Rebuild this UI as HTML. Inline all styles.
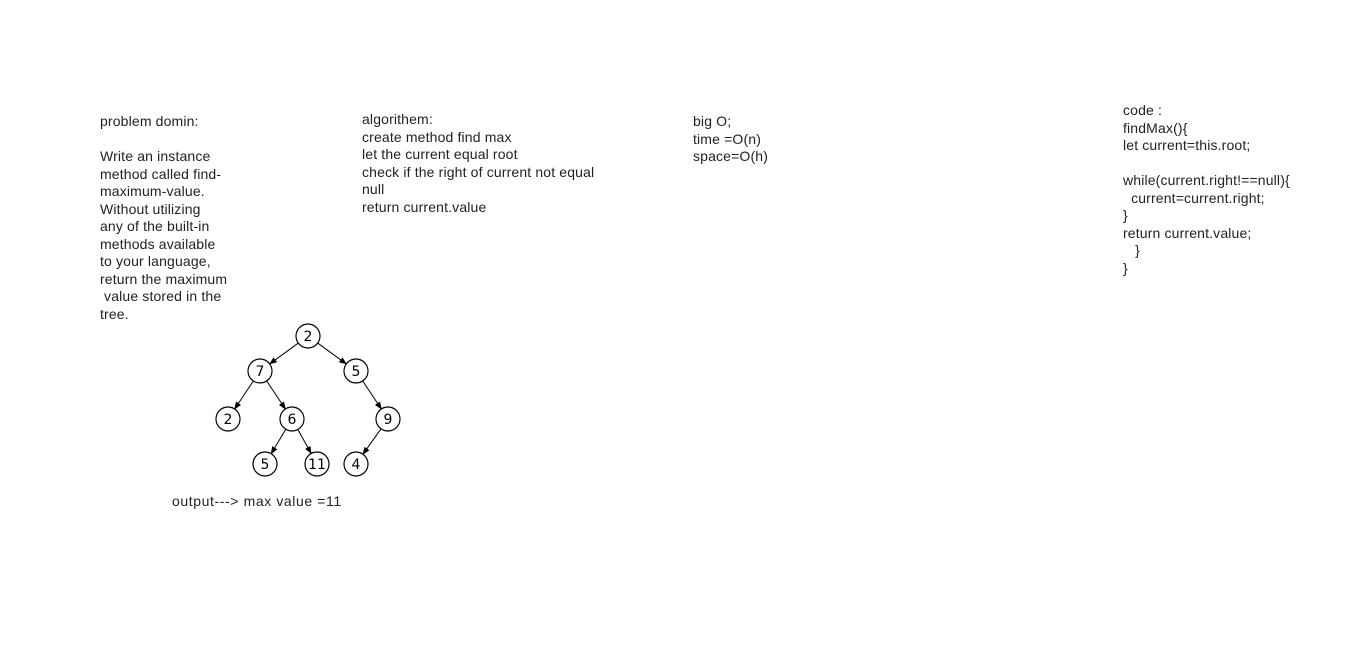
<!DOCTYPE html>
<html><head><meta charset="utf-8"><style>
html,body{margin:0;padding:0;background:#fff;width:1366px;height:657px;overflow:hidden;position:relative}
.t{position:absolute;font-family:"Liberation Sans",sans-serif;font-size:14px;line-height:17.5px;color:#222;white-space:pre;letter-spacing:0.15px}
svg{position:absolute;left:0;top:0}
</style></head><body>
<div class="t" style="left:100px;top:113px">problem domin:

Write an instance
method called find-
maximum-value.
Without utilizing
any of the built-in
methods available
to your language,
return the maximum
 value stored in the
tree.</div>
<div class="t" style="left:362px;top:111px">algorithem:
create method find max
let the current equal root
check if the right of current not equal
null
return current.value</div>
<div class="t" style="left:693px;top:113px">big O;
time =O(n)
space=O(h)</div>
<div class="t" style="left:1123px;top:102px">code :
findMax(){
let current=this.root;

while(current.right!==null){
  current=current.right;
}
return current.value;
   }
}</div>
<div class="t" style="left:172px;top:493px;letter-spacing:0.6px">output---&gt; max value =11</div>
<svg id="tree" width="1366" height="657"></svg>
<script>
const labels=["2","7","5","2","6","9","5","11","4"];
const nx=[308,260,356,228,292,388,265,317,356];
const ny=[336,371,371,419,419,419,464,464,464];
const edges=[[0,1],[0,2],[1,3],[1,4],[2,5],[4,6],[4,7],[5,8]];
const svg=document.getElementById('tree');
const NS="http://www.w3.org/2000/svg";
const r=12;
svg.innerHTML='<defs><marker id="ar" markerWidth="8" markerHeight="8" refX="7" refY="4" orient="auto" markerUnits="userSpaceOnUse"><path d="M0,1 L8,4 L0,7 z" fill="#000"/></marker></defs>';
edges.forEach(([a,b])=>{
  const dx=nx[b]-nx[a],dy=ny[b]-ny[a],d=Math.hypot(dx,dy);
  const l=document.createElementNS(NS,'line');
  l.setAttribute('x1',nx[a]+dx/d*r);l.setAttribute('y1',ny[a]+dy/d*r);
  l.setAttribute('x2',nx[b]-dx/d*r);l.setAttribute('y2',ny[b]-dy/d*r);
  l.setAttribute('stroke','#000');l.setAttribute('stroke-width','1');
  l.setAttribute('marker-end','url(#ar)');
  
  
  svg.appendChild(l);
});
labels.forEach((s,i)=>{
  const c=document.createElementNS(NS,'circle');
  c.setAttribute('cx',nx[i]);c.setAttribute('cy',ny[i]);c.setAttribute('r',r);
  c.setAttribute('fill','#fff');c.setAttribute('stroke','#000');c.setAttribute('stroke-width','1.2');
  
  
  svg.appendChild(c);
  const t=document.createElementNS(NS,'text');
  t.setAttribute('x',nx[i]);t.setAttribute('y',ny[i]+5);t.setAttribute('text-anchor','middle');
  t.setAttribute('font-family','DejaVu Sans, sans-serif');t.setAttribute('font-size','14');
  t.textContent=s;
  
  
  svg.appendChild(t);
});
</script>
</body></html>
